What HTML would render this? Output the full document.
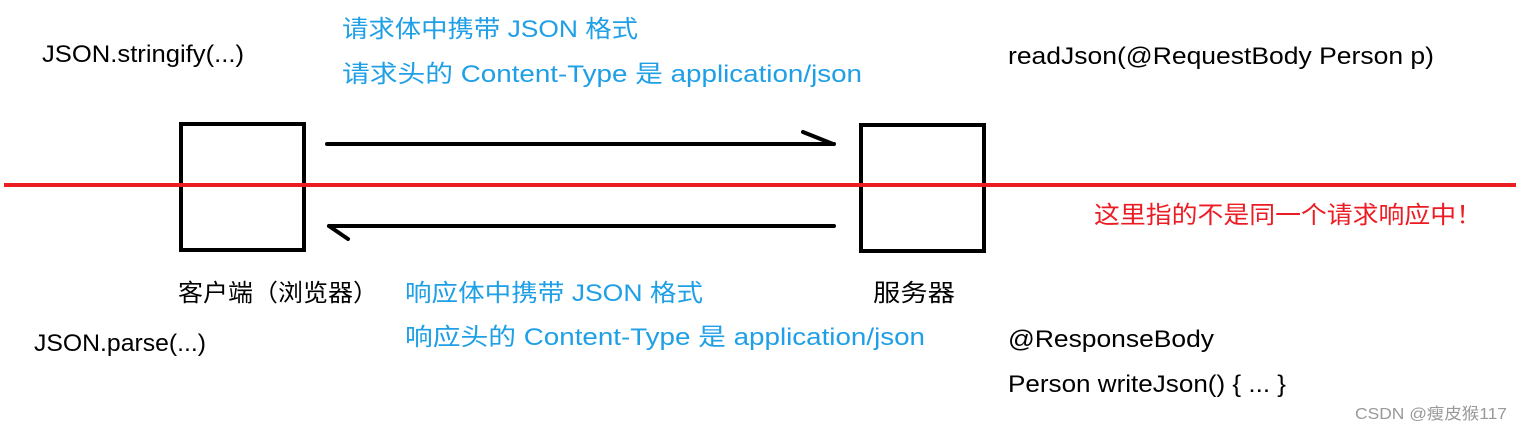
<!DOCTYPE html>
<html><head><meta charset="utf-8"><style>
html,body{margin:0;padding:0;background:#fff;}
svg{display:block;}
text{font-family:"Liberation Sans","Noto Sans CJK SC",sans-serif;font-size:24px;}
</style></head><body>
<svg width="1521" height="431" viewBox="0 0 1521 431" xmlns="http://www.w3.org/2000/svg">
<rect x="181" y="124" width="123" height="126" fill="none" stroke="#000" stroke-width="4"/>
<rect x="861" y="125" width="123" height="126" fill="none" stroke="#000" stroke-width="4"/>
<line x1="327" y1="144" x2="834" y2="144" stroke="#000" stroke-width="4" stroke-linecap="round"/>
<line x1="803" y1="132" x2="833" y2="144" stroke="#000" stroke-width="4" stroke-linecap="round"/>
<line x1="329" y1="226" x2="834" y2="226" stroke="#000" stroke-width="4" stroke-linecap="round"/>
<line x1="329" y1="226" x2="348" y2="239" stroke="#000" stroke-width="4" stroke-linecap="round"/>
<line x1="4" y1="185" x2="1516" y2="185" stroke="#ec1c24" stroke-width="4"/>
<g fill="#000">
<text x="42" y="62" textLength="202" lengthAdjust="spacingAndGlyphs">JSON.stringify(...)</text>
<text x="1008" y="64" textLength="426" lengthAdjust="spacingAndGlyphs">readJson(@RequestBody Person p)</text>
<text x="178" y="301" textLength="200" lengthAdjust="spacingAndGlyphs">客户端（浏览器）</text>
<text x="873" y="301" textLength="82" lengthAdjust="spacingAndGlyphs">服务器</text>
<text x="34" y="351" textLength="172" lengthAdjust="spacingAndGlyphs">JSON.parse(...)</text>
<text x="1008" y="347" textLength="206" lengthAdjust="spacingAndGlyphs">@ResponseBody</text>
<text x="1008" y="392" textLength="278" lengthAdjust="spacingAndGlyphs">Person writeJson() { ... }</text>
</g>
<g fill="#1e9fe6">
<text x="342" y="37" textLength="296" lengthAdjust="spacingAndGlyphs">请求体中携带 JSON 格式</text>
<text x="342" y="82" textLength="520" lengthAdjust="spacingAndGlyphs">请求头的 Content-Type 是 application/json</text>
<text x="405" y="301" textLength="298" lengthAdjust="spacingAndGlyphs">响应体中携带 JSON 格式</text>
<text x="405" y="345" textLength="520" lengthAdjust="spacingAndGlyphs">响应头的 Content-Type 是 application/json</text>
</g>
<text x="1094" y="223" fill="#ec1c24" textLength="388" lengthAdjust="spacingAndGlyphs">这里指的不是同一个请求响应中！</text>
<text x="1355" y="419" fill="#999" style="font-size:16px" textLength="152" lengthAdjust="spacingAndGlyphs">CSDN @瘦皮猴117</text>
</svg>
</body></html>
